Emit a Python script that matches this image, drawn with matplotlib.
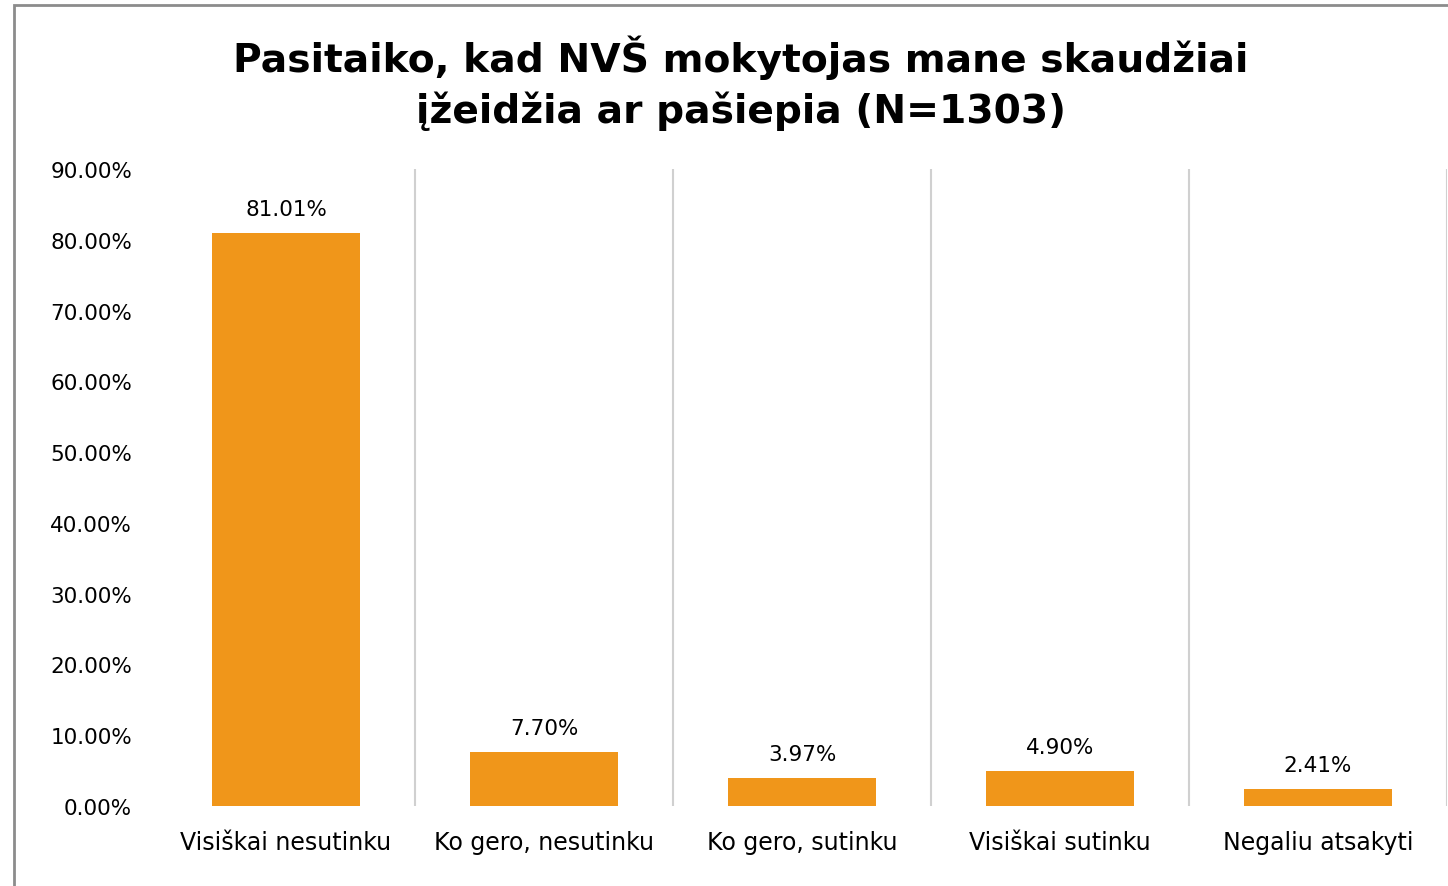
import matplotlib
matplotlib.use("Agg")
import matplotlib.pyplot as plt
from matplotlib.patches import Rectangle
from matplotlib.ticker import FuncFormatter, MultipleLocator

categories = ["Visiškai nesutinku", "Ko gero, nesutinku", "Ko gero, sutinku",
              "Visiškai sutinku", "Negaliu atsakyti"]
values = [81.01, 7.70, 3.97, 4.90, 2.41]
title = "Pasitaiko, kad NVŠ mokytojas mane skaudžiai\nįžeidžia ar pašiepia (N=1303)"

W, H = 1448, 887
fig = plt.figure(figsize=(W / 100, H / 100), dpi=100)
plt.rcParams['font.family'] = ['DejaVu Sans']

ax = fig.add_axes([157 / W, 1 - 807 / H, (1447 - 157) / W, (807 - 170) / H])
x = list(range(len(categories)))
ax.bar(x, values, width=0.575, color="#F0961A", zorder=3)
ax.set_xlim(-0.5, len(categories) - 0.5)
ax.set_ylim(0, 90)
ax.yaxis.set_major_locator(MultipleLocator(10))
ax.yaxis.set_major_formatter(FuncFormatter(lambda v, p: f"{v:.2f}%"))
ax.set_xticks(x)
ax.set_xticklabels(categories, fontsize=17)
ax.tick_params(axis='y', labelsize=15.5, length=0, pad=18)
ax.tick_params(axis='x', length=0, pad=17)
for s in ax.spines.values():
    s.set_visible(False)
for b in [i + 0.5 for i in x]:
    ax.axvline(b, color="#D0D0D0", lw=1.5, zorder=1)
for xi, v in zip(x, values):
    ax.annotate(f"{v:.2f}%", (xi, v), xytext=(0, 10), textcoords="offset points",
                ha="center", va="bottom", fontsize=15.5)

fig.text(741 / W, 1 - 83 / H, title, ha="center", va="center", fontsize=28.3,
         fontweight="bold", linespacing=1.35)

fig.patches.append(Rectangle((14 / W, -0.1), 1.1, 1 - 6 / H + 0.1, transform=fig.transFigure,
                             fill=False, edgecolor="#8C8C8C", lw=2, zorder=0))

fig.savefig("out.png", dpi=100)
